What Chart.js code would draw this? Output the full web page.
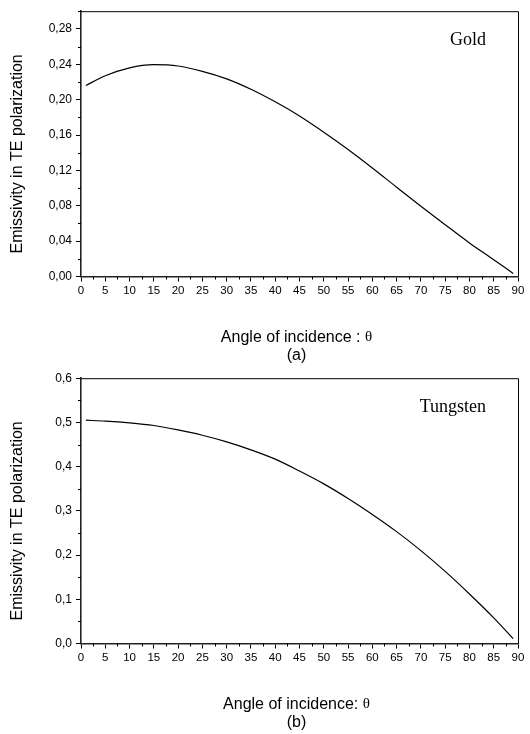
<!DOCTYPE html>
<html>
<head>
<meta charset="utf-8">
<script src="https://cdn.jsdelivr.net/npm/chart.js@4.4.1/dist/chart.umd.min.js"></script>
<style>
  html, body { margin: 0; padding: 0; background: #fff; }
  #wrap { position: relative; width: 530px; height: 734px; }
  canvas { position: absolute; left: 0; }
</style>
</head>
<body>
<div id="wrap">
  <canvas id="goldChart" width="530" height="367" style="top:0"></canvas>
  <canvas id="tungstenChart" width="530" height="367" style="top:367px"></canvas>
</div>
<script>
// angle of incidence (degrees) and emissivity
const angles = [1, 5, 10, 15, 20, 25, 30, 35, 40, 45, 50, 55, 60, 65, 70, 75, 80, 85, 89];
const goldTE = [0.216, 0.227, 0.236, 0.2395, 0.238, 0.232, 0.2235, 0.2117, 0.1975, 0.1815,
                0.1632, 0.1437, 0.1228, 0.101, 0.0795, 0.0585, 0.038, 0.019, 0.0035];
const tungstenTE = [0.505, 0.503, 0.499, 0.493, 0.483, 0.471, 0.456, 0.438, 0.417, 0.390,
                    0.361, 0.328, 0.292, 0.253, 0.210, 0.163, 0.112, 0.058, 0.011];

const SANS = "'Liberation Sans', Arial, sans-serif";
const SERIF = "'Liberation Serif', 'Times New Roman', serif";

// minor ticks (shorter) + top/right frame + texts
const decorPlugin = {
    id: 'decor',
    afterDraw(chart, args, opts) {
        const { ctx, chartArea: a } = chart;
        ctx.save();
        ctx.strokeStyle = '#000';
        ctx.lineWidth = 1;
        ctx.beginPath();
        ctx.moveTo(a.left, a.top + 0.5); ctx.lineTo(a.right + 0.5, a.top + 0.5);
        ctx.lineTo(a.right + 0.5, a.bottom);
        ctx.stroke();

        const xs = chart.scales.x, ys = chart.scales.y;
        ctx.beginPath();
        xs.ticks.forEach(t => {
            if (opts.isMajorX(t.value)) return;
            const px = Math.round(xs.getPixelForValue(t.value)) + 0.5;
            ctx.moveTo(px, a.bottom); ctx.lineTo(px, a.bottom + 3);
        });
        ys.ticks.forEach(t => {
            if (opts.isMajorY(t.value)) return;
            const py = Math.round(ys.getPixelForValue(t.value)) + 0.5;
            ctx.moveTo(a.left, py); ctx.lineTo(a.left - 3, py);
        });
        ctx.stroke();

        ctx.fillStyle = '#000';
        // y title
        ctx.save();
        ctx.translate(18, (a.top + a.bottom) / 2 + 10);
        ctx.rotate(-Math.PI / 2);
        ctx.font = '16px ' + SANS;
        ctx.textAlign = 'center';
        ctx.textBaseline = 'middle';
        ctx.fillText('Emissivity in TE polarization', 0, 0);
        ctx.restore();

        // x title, with serif theta
        ctx.textBaseline = 'middle';
        ctx.textAlign = 'left';
        ctx.font = '16px ' + SANS;
        const w1 = ctx.measureText(opts.xTitle).width;
        ctx.font = '15px ' + SERIF;
        const w2 = ctx.measureText('θ').width;
        const cx = (a.left + a.right) / 2 - 3;
        const x0 = cx - (w1 + w2) / 2;
        ctx.font = '16px ' + SANS;
        ctx.fillText(opts.xTitle, x0, a.bottom + 61);
        ctx.font = '15px ' + SERIF;
        ctx.fillText('θ', x0 + w1, a.bottom + 61);

        ctx.font = '16px ' + SANS;
        ctx.textAlign = 'center';
        ctx.fillText(opts.caption, cx, a.bottom + 79);

        // material label
        ctx.font = '18px ' + SERIF;
        ctx.textAlign = 'right';
        ctx.textBaseline = 'alphabetic';
        ctx.fillText(opts.material, a.right - 32, a.top + 34);
        ctx.restore();
    }
};

function makeChart(id, values, yMax, yStep, decimals, material, caption, xTitle, padTop) {
    const isMajorX = v => Math.round(v / 2.5) % 2 === 0;
    const isMajorY = v => Math.round(v / yStep) % 2 === 0;
    const tickCol = major => (c => major(c.tick.value) ? '#000' : 'rgba(0,0,0,0)');

    return new Chart(document.getElementById(id), {
        type: 'line',
        data: {
            datasets: [{
                data: angles.map((a, i) => ({ x: a, y: values[i] })),
                borderColor: '#000',
                borderWidth: 1.2,
                pointRadius: 0,
                cubicInterpolationMode: 'monotone',
                fill: false
            }]
        },
        options: {
            responsive: false,
            animation: false,
            layout: { padding: { top: padTop, right: 12, left: 0, bottom: 0 } },
            plugins: {
                legend: { display: false },
                tooltip: { enabled: false },
                decor: { material, caption, xTitle, isMajorX, isMajorY }
            },
            scales: {
                x: {
                    type: 'linear', min: 0, max: 90,
                    afterFit: s => { s.height = 90.5; },
                    border: { display: true, color: '#222', width: 1.6 },
                    grid: { drawOnChartArea: false, tickLength: 5, tickWidth: 1, tickColor: tickCol(isMajorX) },
                    ticks: {
                        stepSize: 2.5, autoSkip: false, maxRotation: 0, padding: 2,
                        color: '#000', font: { family: SANS, size: 11.5 },
                        callback: v => isMajorX(v) ? String(Math.round(v)) : ''
                    }
                },
                y: {
                    min: 0, max: yMax,
                    afterFit: s => { s.width = 81; },
                    border: { display: true, color: '#222', width: 1.6 },
                    grid: { drawOnChartArea: false, tickLength: 5, tickWidth: 1, tickColor: tickCol(isMajorY) },
                    ticks: {
                        stepSize: yStep, autoSkip: false, padding: 4,
                        color: '#000', font: { family: SANS, size: 12 },
                        callback: v => isMajorY(v) ? v.toFixed(decimals).replace('.', ',') : ''
                    }
                }
            }
        },
        plugins: [decorPlugin]
    });
}

makeChart('goldChart', goldTE, 0.30, 0.02, 2, 'Gold', '(a)', 'Angle of incidence : ', 8);
makeChart('tungstenChart', tungstenTE, 0.6, 0.05, 1, 'Tungsten', '(b)', 'Angle of incidence: ', 11);
</script>
</body>
</html>
